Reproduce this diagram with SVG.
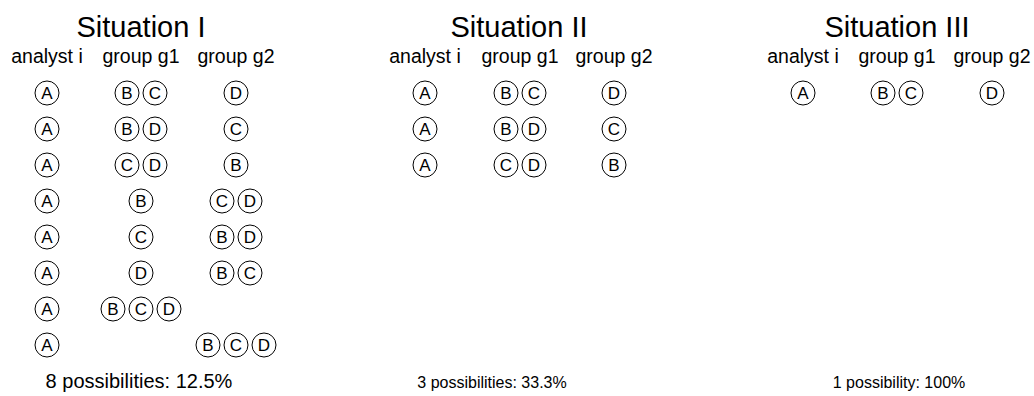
<svg xmlns="http://www.w3.org/2000/svg" xmlns:xlink="http://www.w3.org/1999/xlink" width="1034" height="396" viewBox="0 0 1034 396">
<style>
text{font-family:"Liberation Sans",Arial,sans-serif;fill:#000;text-anchor:middle}
.t{font-size:29px}
.h{font-size:19.5px}
.b1{font-size:20px}
.b{font-size:16px}
.l{font-size:17px}
circle{fill:none;stroke:#000;stroke-width:1}
</style>
<defs>
<g id="cA"><circle r="12"/><text class="l" y="6.1">A</text></g>
<g id="cB"><circle r="12"/><text class="l" y="6.1">B</text></g>
<g id="cC"><circle r="12"/><text class="l" y="6.1">C</text></g>
<g id="cD"><circle r="12"/><text class="l" y="6.1">D</text></g>
</defs>
<rect width="1034" height="396" fill="#fff"/>
<g id="situation1">
<text class="t" x="141" y="37">Situation I</text>
<text class="h" x="47" y="63">analyst i</text>
<text class="h" x="141" y="63">group g1</text>
<text class="h" x="236" y="63">group g2</text>
<use xlink:href="#cA" x="47" y="93"/><use xlink:href="#cB" x="127" y="93"/><use xlink:href="#cC" x="155" y="93"/><use xlink:href="#cD" x="236" y="93"/>
<use xlink:href="#cA" x="47" y="129"/><use xlink:href="#cB" x="127" y="129"/><use xlink:href="#cD" x="155" y="129"/><use xlink:href="#cC" x="236" y="129"/>
<use xlink:href="#cA" x="47" y="165"/><use xlink:href="#cC" x="127" y="165"/><use xlink:href="#cD" x="155" y="165"/><use xlink:href="#cB" x="236" y="165"/>
<use xlink:href="#cA" x="47" y="201"/><use xlink:href="#cB" x="141" y="201"/><use xlink:href="#cC" x="222" y="201"/><use xlink:href="#cD" x="250" y="201"/>
<use xlink:href="#cA" x="47" y="237"/><use xlink:href="#cC" x="141" y="237"/><use xlink:href="#cB" x="222" y="237"/><use xlink:href="#cD" x="250" y="237"/>
<use xlink:href="#cA" x="47" y="273"/><use xlink:href="#cD" x="141" y="273"/><use xlink:href="#cB" x="222" y="273"/><use xlink:href="#cC" x="250" y="273"/>
<use xlink:href="#cA" x="47" y="309"/><use xlink:href="#cB" x="113" y="309"/><use xlink:href="#cC" x="141" y="309"/><use xlink:href="#cD" x="169" y="309"/>
<use xlink:href="#cA" x="47" y="345"/><use xlink:href="#cB" x="208" y="345"/><use xlink:href="#cC" x="236" y="345"/><use xlink:href="#cD" x="264" y="345"/>
<text class="b1" x="139" y="388">8 possibilities: 12.5%</text>
</g>
<g id="situation2">
<text class="t" x="519" y="37">Situation II</text>
<text class="h" x="425" y="63">analyst i</text>
<text class="h" x="520" y="63">group g1</text>
<text class="h" x="614" y="63">group g2</text>
<use xlink:href="#cA" x="425" y="93"/><use xlink:href="#cB" x="506" y="93"/><use xlink:href="#cC" x="534" y="93"/><use xlink:href="#cD" x="614" y="93"/>
<use xlink:href="#cA" x="425" y="129"/><use xlink:href="#cB" x="506" y="129"/><use xlink:href="#cD" x="534" y="129"/><use xlink:href="#cC" x="614" y="129"/>
<use xlink:href="#cA" x="425" y="165"/><use xlink:href="#cC" x="506" y="165"/><use xlink:href="#cD" x="534" y="165"/><use xlink:href="#cB" x="614" y="165"/>
<text class="b" x="492" y="388">3 possibilities: 33.3%</text>
</g>
<g id="situation3">
<text class="t" x="897" y="37">Situation III</text>
<text class="h" x="803" y="63">analyst i</text>
<text class="h" x="897" y="63">group g1</text>
<text class="h" x="992" y="63">group g2</text>
<use xlink:href="#cA" x="803" y="93"/><use xlink:href="#cB" x="883" y="93"/><use xlink:href="#cC" x="911" y="93"/><use xlink:href="#cD" x="992" y="93"/>
<text class="b" x="899" y="388">1 possibility: 100%</text>
</g>
</svg>
